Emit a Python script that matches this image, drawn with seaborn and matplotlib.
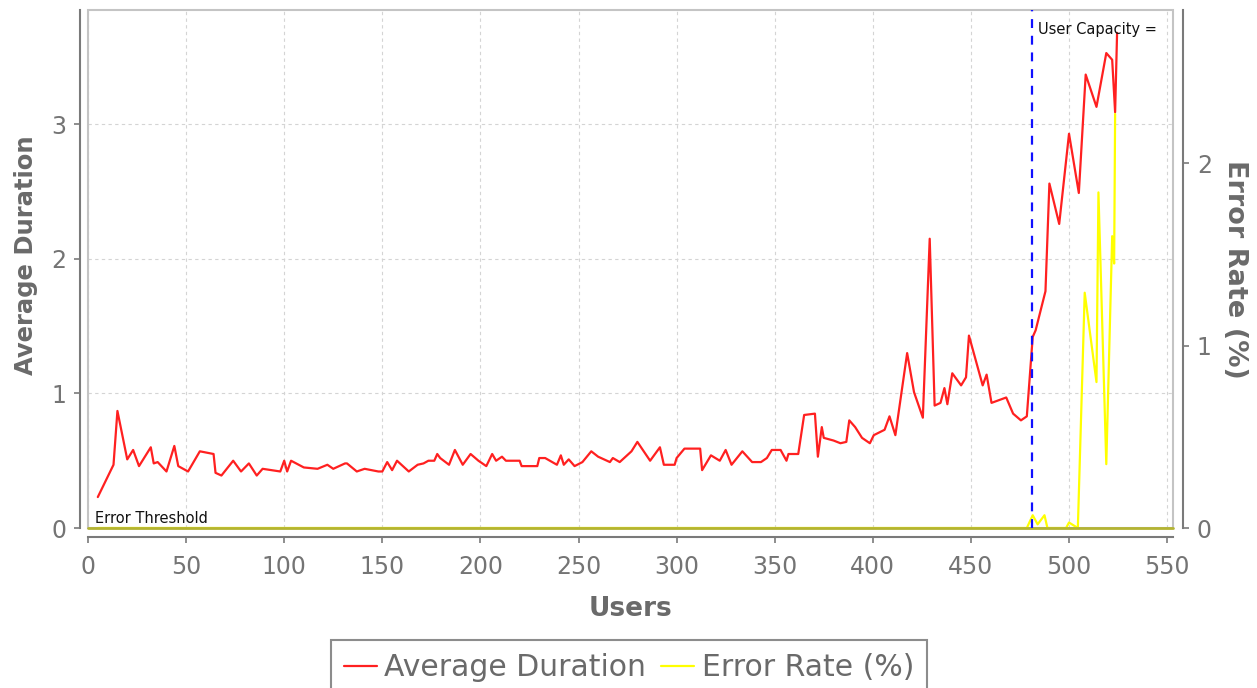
import numpy as np
import pandas as pd
import matplotlib
matplotlib.use("Agg")
import matplotlib.pyplot as plt
from matplotlib.lines import Line2D
from matplotlib.patches import Rectangle
import seaborn as sns

# ---------------- data ----------------
users_dur = [5, 13, 15, 20, 23, 26, 32, 33.5, 35.5, 40, 44, 46, 51, 57, 64, 65, 68, 74, 78, 82,
             86, 89, 98, 100, 101.5, 103.5, 110, 117, 122, 125, 131, 132, 137, 141, 148, 150,
             152.5, 155, 157.5, 163.5, 168, 171, 173.5, 176.5, 178, 179.5, 184, 187, 191, 195,
             199, 203, 206, 208, 211, 213, 220, 221, 229, 230, 233, 239, 241, 242.5, 245, 248,
             252, 256.5, 260, 266, 267.5, 271, 277, 280, 286.5, 291.5, 293.5, 299, 300, 304,
             312, 313, 317.5, 322, 325, 328, 333.5, 338.5, 343, 346, 348.5, 353, 356, 357, 362,
             365, 370.5, 372, 374, 375, 380, 383.5, 386.5, 388, 391, 394.5, 398.5, 400.5, 406,
             408.5, 411.5, 417.5, 421, 425.5, 429, 431.5, 434.5, 436.5, 438, 440.5, 445, 447.5,
             449, 456, 458, 460.5, 468, 471.5, 475.5, 478.5, 481.5, 483, 488, 490, 495, 500,
             505, 508.5, 514, 519, 522, 523.5, 524.5]
avg_duration = [0.23, 0.47, 0.87, 0.51, 0.58, 0.46, 0.60, 0.48, 0.49, 0.42, 0.61, 0.46, 0.42,
                0.57, 0.55, 0.41, 0.39, 0.50, 0.42, 0.48, 0.39, 0.44, 0.42, 0.50, 0.42, 0.50,
                0.45, 0.44, 0.47, 0.44, 0.48, 0.48, 0.42, 0.44, 0.42, 0.42, 0.49, 0.43, 0.50,
                0.42, 0.47, 0.48, 0.50, 0.50, 0.55, 0.52, 0.47, 0.58, 0.47, 0.55, 0.50, 0.46,
                0.55, 0.50, 0.53, 0.50, 0.50, 0.46, 0.46, 0.52, 0.52, 0.47, 0.54, 0.47, 0.51,
                0.46, 0.49, 0.57, 0.53, 0.49, 0.52, 0.49, 0.57, 0.64, 0.50, 0.60, 0.47, 0.47,
                0.52, 0.59, 0.59, 0.43, 0.54, 0.50, 0.58, 0.47, 0.57, 0.49, 0.49, 0.52, 0.58,
                0.58, 0.50, 0.55, 0.55, 0.84, 0.85, 0.53, 0.75, 0.67, 0.65, 0.63, 0.64, 0.80,
                0.75, 0.67, 0.63, 0.69, 0.73, 0.83, 0.69, 1.30, 1.01, 0.82, 2.15, 0.91, 0.93,
                1.04, 0.92, 1.15, 1.06, 1.12, 1.43, 1.06, 1.14, 0.93, 0.97, 0.85, 0.80, 0.83,
                1.42, 1.47, 1.76, 2.56, 2.26, 2.93, 2.49, 3.37, 3.13, 3.53, 3.48, 3.09, 3.68]

users_err = [5, 478.5, 481.5, 484, 487.5, 489, 498.5, 500, 504.5, 508, 514, 515, 519, 522,
             523, 523.5]
error_rate = [0.0, 0.0, 0.07, 0.02, 0.07, 0.0, 0.0, 0.03, 0.0, 1.29, 0.80, 1.84, 0.35, 1.60,
              1.45, 2.27]

user_capacity = 481
x_ticks = [0, 50, 100, 150, 200, 250, 300, 350, 400, 450, 500, 550]
left_ticks = [0, 1, 2, 3]
right_ticks = [0, 1, 2]

dur_df = pd.DataFrame({"Users": users_dur, "Average Duration": avg_duration})
err_df = pd.DataFrame({"Users": users_err, "Error Rate (%)": error_rate})

# ---------------- figure ----------------
sns.set_theme(style="white")
plt.rcParams["font.family"] = ["DejaVu Sans"]

W, H = 1257, 688
fig = plt.figure(figsize=(W / 100, H / 100), dpi=100)
ax = fig.add_axes([88 / W, 1 - 528 / H, (1173 - 88) / W, (528 - 10) / H])
ax2 = ax.twinx()

tick_col = "#747474"
label_col = "#6a6a6a"

# grid
ax.set_xlim(0, 553)
ax.set_ylim(0, 3.85)
ax2.set_ylim(0, 2.84)
ax.set_xticks(x_ticks)
ax.set_yticks(left_ticks)
ax2.set_yticks(right_ticks)
ax.grid(True, color="#d4d4d4", linestyle=(0, (3, 3)), linewidth=0.8)
ax2.grid(False)

# frame around the plotting area
ax2.add_patch(Rectangle((0, 0), 1, 1, transform=ax2.transAxes, fill=False,
                        edgecolor="#c4c4c4", linewidth=1.5, zorder=1, clip_on=False))

# series
sns.lineplot(data=err_df, x="Users", y="Error Rate (%)", ax=ax2, color="#ffff00",
             linewidth=1.6, estimator=None, sort=False, legend=False, zorder=3)
ax2.axhline(0, color="#b4b432", linewidth=2.0, zorder=4, clip_on=False)
sns.lineplot(data=dur_df, x="Users", y="Average Duration", ax=ax, color="#ff2020",
             linewidth=1.6, estimator=None, sort=False, legend=False, zorder=3)
ax2.axvline(user_capacity, color="#1010ff", linestyle=(0, (4, 3.5)), linewidth=1.6, zorder=6)

ax2.text(3.5, 0.03, "Error Threshold", fontsize=10.5, color="#111111", zorder=7)
ax2.text(user_capacity + 3, 2.71, "User Capacity =", fontsize=10.5, color="#111111",
         zorder=7, clip_on=True)

# spines / axes styling
for a in (ax, ax2):
    for s in a.spines.values():
        s.set_visible(False)
pt = 72 / 100
ax.spines["left"].set_visible(True)
ax.spines["left"].set_position(("outward", 8 * pt))
ax.spines["left"].set_color("#7a7a7a")
ax.spines["left"].set_linewidth(1.5)
ax.spines["bottom"].set_visible(True)
ax.spines["bottom"].set_position(("outward", 9 * pt))
ax.spines["bottom"].set_color("#7a7a7a")
ax.spines["bottom"].set_linewidth(1.5)
ax2.spines["right"].set_visible(True)
ax2.spines["right"].set_position(("outward", 10 * pt))
ax2.spines["right"].set_color("#7a7a7a")
ax2.spines["right"].set_linewidth(1.5)

ax.tick_params(axis="x", which="major", direction="out", length=4, width=1.2,
               color="#7a7a7a", labelcolor=tick_col, labelsize=17, bottom=True, pad=9)
ax.tick_params(axis="y", which="major", direction="out", length=4, width=1.2,
               color="#7a7a7a", labelcolor=tick_col, labelsize=17, left=True, pad=6)
ax2.tick_params(axis="y", direction="out", length=4, width=1.2, color="#7a7a7a",
                labelcolor=tick_col, labelsize=17, right=True, pad=6)

ax.set_xlabel("Users", fontsize=19, fontweight="bold", color=label_col, labelpad=12)
ax.set_ylabel("Average Duration", fontsize=17.5, fontweight="bold", color=label_col,
              labelpad=10)
ax.yaxis.set_label_coords(-0.046, 0.527)
ax2.set_ylabel("Error Rate (%)", fontsize=19.5, fontweight="bold", color=label_col,
               rotation=270, labelpad=26)

# legend
handles = [Line2D([], [], color="#ff2020", linewidth=1.6),
           Line2D([], [], color="#ffff00", linewidth=1.6)]
leg = fig.legend(handles, ["Average Duration", "Error Rate (%)"], loc="upper center",
                 bbox_to_anchor=(0.5004, 1 - 640 / H), ncol=2, fontsize=21.5,
                 frameon=True, fancybox=False, handlelength=1.1, handletextpad=0.25,
                 columnspacing=0.5, borderpad=0.45, borderaxespad=0.0,
                 labelcolor=label_col)
leg.get_frame().set_edgecolor("#707070")
leg.get_frame().set_linewidth(1.5)

fig.savefig("out.png", dpi=100)
